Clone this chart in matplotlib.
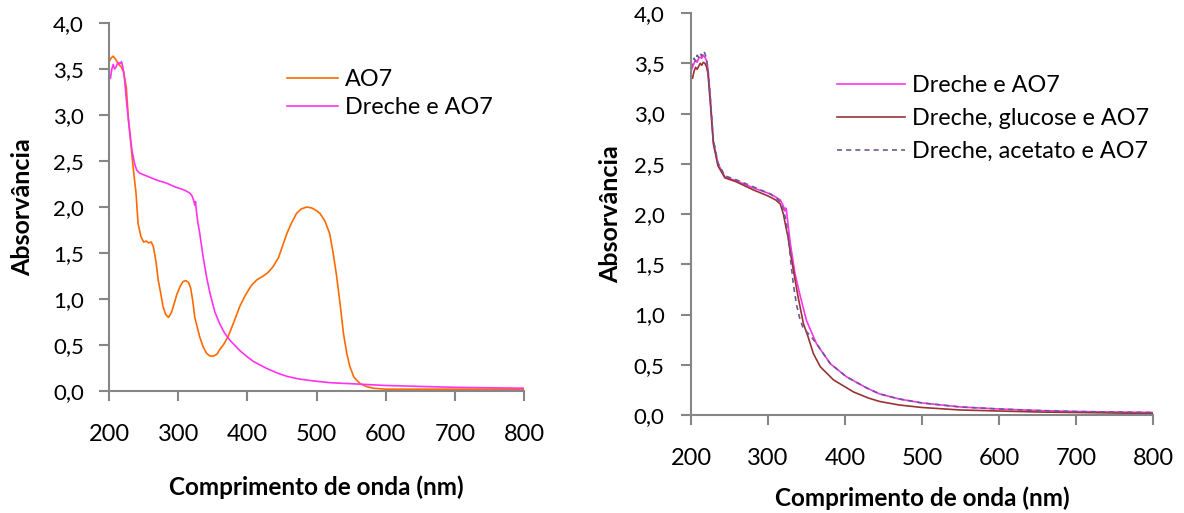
import numpy as np
import matplotlib
matplotlib.use('Agg')
import matplotlib.pyplot as plt

plt.rcParams['font.family'] = ['Lato', 'DejaVu Sans']

# left panel: AO7 alone and with dreche
wlAO7 = [200, 203, 206, 210, 214, 218, 221, 225, 228, 232,
         235, 239, 242, 246, 250, 254, 257, 261, 264, 268,
         271, 275, 278, 282, 286, 290, 293, 298, 303, 307,
         311, 315, 318, 321, 324, 328, 331, 336, 341, 346,
         351, 356, 360, 366, 372, 380, 389, 397, 406, 414,
         423, 430, 437, 445, 451, 457, 464, 471, 478, 486,
         493, 500, 505, 512, 519, 524, 529, 534, 539, 544,
         548, 554, 563, 572, 582, 600, 650, 700, 750, 800]
absAO7 = [3.58, 3.62, 3.64, 3.60, 3.55, 3.52, 3.47, 3.30, 2.95, 2.65,
          2.42, 2.15, 1.82, 1.68, 1.62, 1.63, 1.61, 1.62, 1.57, 1.40,
          1.21, 1.05, 0.92, 0.83, 0.80, 0.85, 0.92, 1.05, 1.14, 1.19,
          1.20, 1.18, 1.12, 0.98, 0.80, 0.68, 0.59, 0.48, 0.41, 0.38,
          0.38, 0.40, 0.45, 0.51, 0.59, 0.74, 0.92, 1.04, 1.15, 1.21,
          1.25, 1.29, 1.35, 1.45, 1.58, 1.71, 1.83, 1.93, 1.98, 2.00,
          1.99, 1.96, 1.93, 1.85, 1.71, 1.50, 1.25, 0.95, 0.62, 0.40,
          0.27, 0.15, 0.08, 0.05, 0.03, 0.02, 0.02, 0.02, 0.02, 0.02]

wlDreche = [200, 202, 204, 206, 208, 210, 212, 214, 216, 218,
            220, 222, 226, 230, 233, 237, 240, 244, 250, 260,
            270, 283, 295, 303, 310, 317, 320, 322, 324, 325,
            326, 328, 331, 336, 341, 346, 353, 360, 367, 375,
            389, 400, 409, 428, 445, 457, 475, 495, 520, 548,
            600, 650, 700, 750, 800]
absDreche = [3.44, 3.40, 3.50, 3.55, 3.50, 3.52, 3.56, 3.57, 3.56, 3.58,
             3.52, 3.42, 3.09, 2.82, 2.62, 2.47, 2.40, 2.37, 2.35, 2.32,
             2.29, 2.26, 2.22, 2.20, 2.18, 2.15, 2.12, 2.08, 2.02, 2.06,
             1.98, 1.85, 1.72, 1.46, 1.24, 1.06, 0.86, 0.73, 0.63, 0.55,
             0.44, 0.37, 0.32, 0.245, 0.19, 0.16, 0.13, 0.11, 0.09, 0.08,
             0.06, 0.05, 0.04, 0.035, 0.03]

# right panel
wlR1 = [200, 202, 204, 206, 208, 210, 212, 214, 216, 218,
        220, 222, 225, 229, 235, 244, 259, 281, 303, 312,
        316, 320, 322, 323, 324, 326, 329, 335, 342, 350,
        363, 381, 402, 428, 445, 470, 500, 550, 600, 650,
        700, 750, 800]
absR1 = [3.42, 3.46, 3.50, 3.53, 3.51, 3.55, 3.56, 3.55, 3.58, 3.56,
         3.53, 3.45, 3.16, 2.73, 2.50, 2.37, 2.33, 2.26, 2.20, 2.16,
         2.14, 2.08, 2.03, 2.06, 2.04, 1.90, 1.71, 1.41, 1.18, 0.94,
         0.71, 0.51, 0.38, 0.27, 0.21, 0.16, 0.12, 0.08, 0.06, 0.045,
         0.035, 0.03, 0.025]

wlR2 = [200, 202, 204, 206, 208, 210, 212, 214, 216, 218,
        220, 222, 225, 229, 235, 244, 259, 281, 300, 310,
        316, 320, 322, 326, 329, 333, 339, 346, 352, 359,
        368, 385, 411, 430, 445, 470, 500, 550, 600, 650,
        700, 750, 800]
absR2 = [3.38, 3.35, 3.42, 3.46, 3.44, 3.47, 3.50, 3.48, 3.51, 3.50,
         3.47, 3.40, 3.12, 2.70, 2.48, 2.36, 2.32, 2.24, 2.18, 2.14,
         2.10, 2.00, 1.92, 1.77, 1.62, 1.44, 1.18, 0.91, 0.78, 0.61,
         0.48, 0.35, 0.23, 0.17, 0.135, 0.10, 0.075, 0.05, 0.04, 0.03,
         0.025, 0.02, 0.015]

wlR3 = [200, 202, 204, 206, 208, 210, 212, 214, 216, 218,
        220, 222, 225, 229, 235, 244, 259, 281, 303, 312,
        316, 320, 323, 326, 330, 333, 337, 341, 345, 350,
        356, 363, 381, 402, 428, 445, 470, 500, 550, 600,
        650, 700, 750, 800]
absR3 = [3.45, 3.50, 3.55, 3.52, 3.58, 3.56, 3.60, 3.57, 3.62, 3.60,
         3.55, 3.45, 3.17, 2.74, 2.51, 2.38, 2.34, 2.27, 2.20, 2.15,
         2.12, 2.04, 1.95, 1.80, 1.50, 1.30, 1.10, 0.97, 0.88, 0.83,
         0.78, 0.71, 0.51, 0.38, 0.27, 0.21, 0.16, 0.12, 0.08, 0.06,
         0.045, 0.035, 0.03, 0.025]

xticks = [200, 300, 400, 500, 600, 700, 800]
yticks = [0.0, 0.5, 1.0, 1.5, 2.0, 2.5, 3.0, 3.5, 4.0]
ytickLabels = ['0,0', '0,5', '1,0', '1,5', '2,0', '2,5', '3,0', '3,5', '4,0']

gray = '#868686'

def styleAxes(ax, xpad, ypad, ytickpad):
    ax.set_xlim(200, 800)
    ax.set_ylim(0, 4.0)
    ax.set_xticks(xticks)
    ax.set_xticklabels([str(t) for t in xticks], fontsize=17)
    ax.set_yticks(yticks)
    ax.set_yticklabels(ytickLabels, fontsize=16)
    for s in ['top', 'right']:
        ax.spines[s].set_visible(False)
    for s in ['left', 'bottom']:
        ax.spines[s].set_color(gray)
        ax.spines[s].set_linewidth(1.5)
    ax.tick_params(direction='out', length=7, width=1.5, color=gray)
    ax.tick_params(axis='x', pad=17)
    ax.tick_params(axis='y', pad=ytickpad)
    ax.set_xlabel('Comprimento de onda (nm)', fontsize=17.5, fontweight='bold', labelpad=xpad)
    ax.set_ylabel('Absorvância', fontsize=18, fontweight='bold', labelpad=ypad)
    ax.patch.set_visible(False)

fig = plt.figure(figsize=(11.84, 5.13), dpi=100)

ax1 = fig.add_axes([0.0921, 0.2378, 0.3505, 0.7173])
ax1.plot(wlAO7, absAO7, color='#ff6a00', lw=1.2, label='AO7')
ax1.plot(wlDreche, absDreche, color='#ff33ee', lw=1.2, label='Dreche e AO7')
styleAxes(ax1, 22, 14, 11)
ax1.legend(loc='upper left', bbox_to_anchor=(0.429, 0.875), frameon=False, fontsize=16.8,
           handlelength=2.2, handletextpad=0.3, labelspacing=0.3, borderpad=0, borderaxespad=0)

ax2 = fig.add_axes([0.5836, 0.191, 0.3902, 0.7836])
ax2.plot(wlR1, absR1, color='#ff33ee', lw=1.2, label='Dreche e AO7')
ax2.plot(wlR2, absR2, color='#993333', lw=1.2, label='Dreche, glucose e AO7')
ax2.plot(wlR3, absR3, color='#6a5a8e', lw=1.2, ls=(0, (3, 2.5)), label='Dreche, acetato e AO7')
styleAxes(ax2, 12, 8, 12)
ax2.legend(loc='upper left', bbox_to_anchor=(0.316, 0.845), frameon=False, fontsize=16.8,
           handlelength=2.9, handletextpad=0.3, labelspacing=0.5, borderpad=0, borderaxespad=0)

fig.savefig('out.png', dpi=100)
